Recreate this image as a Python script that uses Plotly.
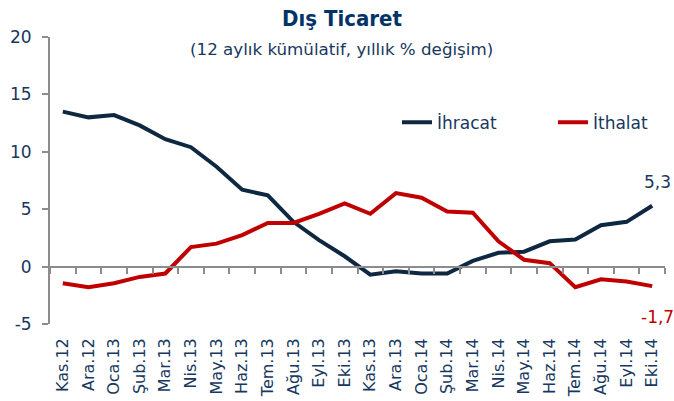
import plotly.graph_objects as go

months = ["Kas.12", "Ara.12", "Oca.13", "Şub.13", "Mar.13", "Nis.13", "May.13", "Haz.13",
          "Tem.13", "Ağu.13", "Eyl.13", "Eki.13", "Kas.13", "Ara.13", "Oca.14", "Şub.14",
          "Mar.14", "Nis.14", "May.14", "Haz.14", "Tem.14", "Ağu.14", "Eyl.14", "Eki.14"]

ihracat = [13.5, 13.0, 13.2, 12.3, 11.1, 10.4, 8.7, 6.7, 6.2, 3.9, 2.3, 0.9,
           -0.7, -0.4, -0.6, -0.6, 0.5, 1.2, 1.3, 2.2, 2.35, 3.6, 3.9, 5.3]
ithalat = [-1.45, -1.8, -1.45, -0.9, -0.6, 1.7, 2.0, 2.75, 3.8, 3.8, 4.6, 5.5,
           4.6, 6.4, 6.0, 4.8, 4.7, 2.2, 0.6, 0.3, -1.8, -1.1, -1.3, -1.7]

y_ticks = [-5, 0, 5, 10, 15, 20]
y_tick_labels = [str(v) for v in y_ticks]

NAVY = "#0e2841"
RED = "#c00000"
TXT = "#17375e"
GREY = "#8c8c8c"
FONT = "DejaVu Sans"

W, H = 674, 401
ML, MR, MT, MB = 50, 9, 37, 77
PW = W - ML - MR
PH = H - MT - MB

fig = go.Figure()
fig.add_trace(go.Scatter(x=months, y=ihracat, mode="lines", name="İhracat",
                         line=dict(color=NAVY, width=4), legend="legend"))
fig.add_trace(go.Scatter(x=months, y=ithalat, mode="lines", name="İthalat",
                         line=dict(color=RED, width=4), legend="legend2"))
# helper trace for the zero-line category axis
fig.add_trace(go.Scatter(x=months, y=[None] * len(months), xaxis="x2", showlegend=False,
                         hoverinfo="skip", mode="lines"))

fig.add_annotation(x=months[-1], y=ihracat[-1], text=f"{ihracat[-1]:.1f}".replace(".", ","),
                   showarrow=False, yshift=24, xshift=5,
                   font=dict(family=FONT, size=17, color=TXT))
fig.add_annotation(x=months[-1], y=ithalat[-1], text=f"{ithalat[-1]:.1f}".replace(".", ","),
                   showarrow=False, yshift=-31, xshift=5,
                   font=dict(family=FONT, size=17, color=RED))

fig.add_annotation(xref="paper", yref="paper", x=(341 - ML) / PW, y=(MT + PH - 48.8) / PH,
                   xanchor="center", yanchor="middle",
                   text="(12 aylık kümülatif, yıllık % değişim)", showarrow=False,
                   font=dict(family=FONT, size=16.7, color=TXT))

leg_font = dict(family=FONT, size=17, color=TXT)
leg_y = (MT + PH - 122.7) / PH

fig.update_layout(
    width=W, height=H,
    margin=dict(l=ML, r=MR, t=MT, b=MB),
    paper_bgcolor="white", plot_bgcolor="white",
    title=dict(text="<b>Dış Ticaret</b>", xref="container", x=342 / W, xanchor="center",
               yref="container", y=1 - 18.3 / H, yanchor="middle",
               font=dict(family="DejaVu Sans Condensed", size=22, color="#003366")),
    showlegend=True,
    legend=dict(orientation="h", x=(397 - ML) / PW, y=leg_y, xanchor="left", yanchor="middle",
                font=leg_font, bgcolor="rgba(0,0,0,0)"),
    legend2=dict(orientation="h", x=(553 - ML) / PW, y=leg_y, xanchor="left", yanchor="middle",
                 font=leg_font, bgcolor="rgba(0,0,0,0)"),
    xaxis=dict(type="category", categoryorder="array", categoryarray=months,
               range=[-0.5, len(months) - 0.5], showline=False, showgrid=False,
               zeroline=False, ticks="", tickangle=-90, ticklabelstandoff=10,
               automargin=False, tickfont=dict(family=FONT, size=16, color=TXT)),
    xaxis2=dict(type="category", categoryorder="array", categoryarray=months,
                range=[-0.5, len(months) - 0.5], overlaying="x", anchor="free", position=0.2,
                showline=True, linecolor=GREY, linewidth=2, ticks="outside", ticklen=6,
                tickcolor=GREY, tickwidth=2, tickson="boundaries", showticklabels=False,
                showgrid=False, zeroline=False, automargin=False),
    yaxis=dict(range=[-5, 20], tickvals=y_ticks, ticktext=y_tick_labels, showline=True,
               linecolor=GREY, linewidth=2, ticks="outside", ticklen=6, tickcolor=GREY,
               tickwidth=2, showgrid=False, zeroline=False, automargin=False,
               ticklabelstandoff=7, tickfont=dict(family=FONT, size=17, color=TXT)),
)

# remove the default page margin and scrollbars so the figure fills the window exactly
fig.write_html("out.html",
               config={"displayModeBar": False},
               post_script="document.body.style.margin='0';"
                           "document.documentElement.style.overflow='hidden';"
                           "document.body.style.overflow='hidden';")
